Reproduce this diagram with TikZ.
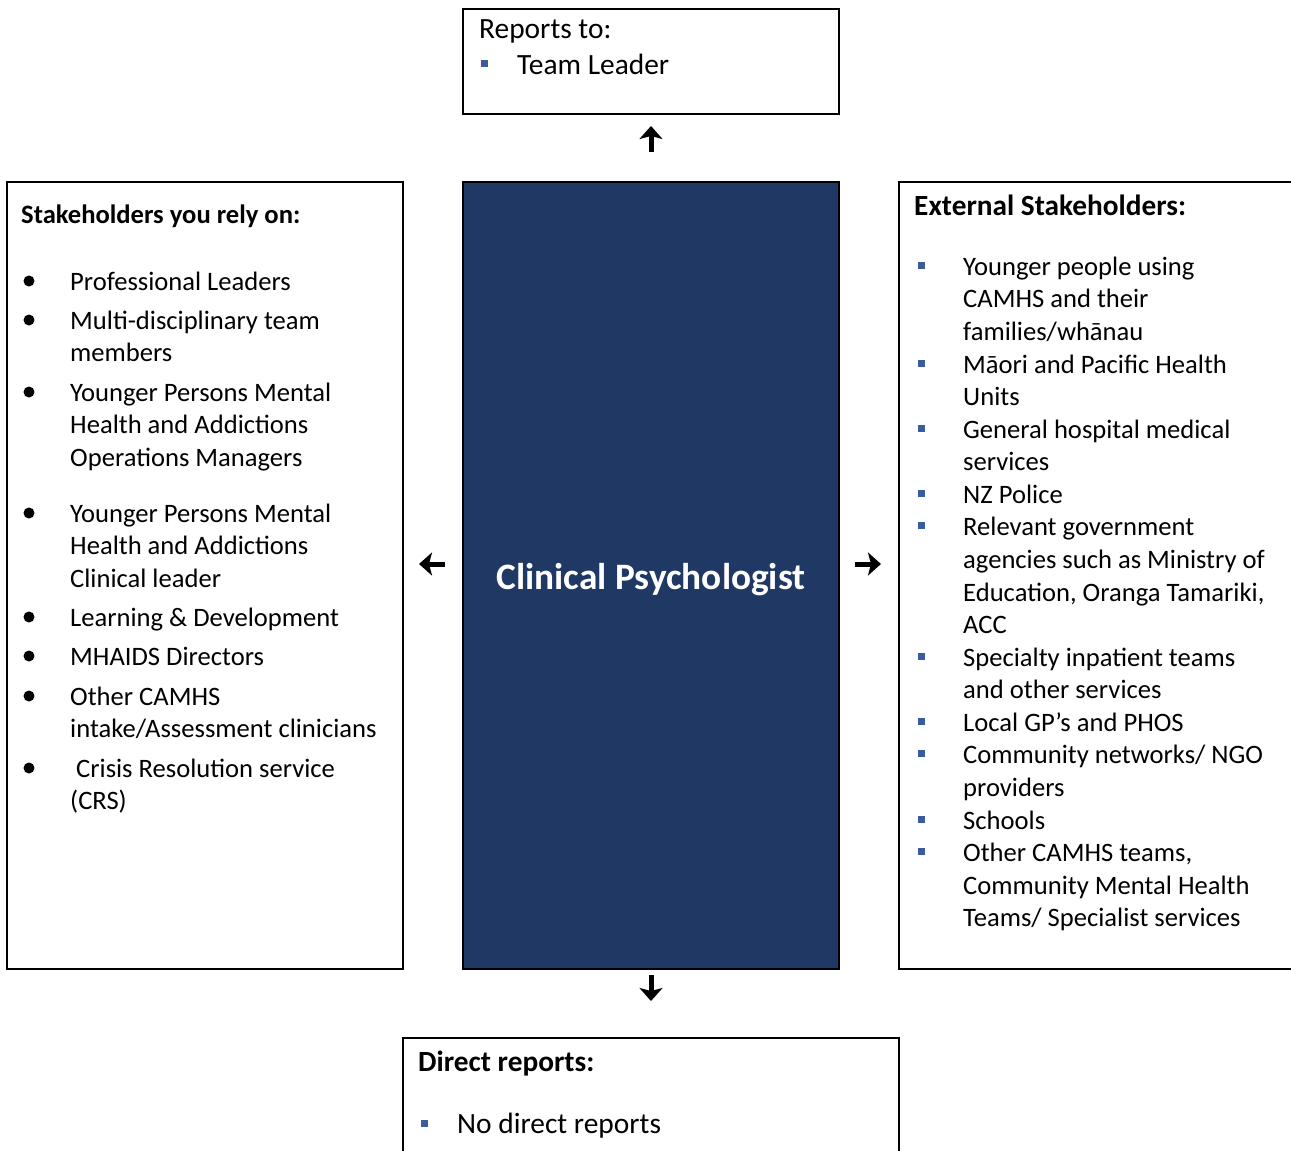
\documentclass[tikz,border=0pt]{standalone}
\usepackage{fontspec}
\setmainfont{Carlito}
\usetikzlibrary{arrows.meta}
\definecolor{navy}{HTML}{203864}
\definecolor{bulblue}{HTML}{3C5AA0}
\tikzset{
  box/.style={draw=black, line width=2.5pt, rectangle, inner sep=0pt, outer sep=0pt},
  txt/.style={anchor=base west, inner sep=0pt, font=\fontsize{26.6}{31}\selectfont},
  bigtxt/.style={anchor=base west, inner sep=0pt, font=\fontsize{29.4}{34}\selectfont},
  head/.style={anchor=base west, inner sep=0pt, font=\fontsize{29.3}{34}\selectfont\bfseries},
  dot/.style={circle, fill=black, inner sep=0pt, minimum size=11pt},
  sq/.style={rectangle, fill=bulblue, inner sep=0pt, minimum size=7pt},
  arr/.style={line width=5pt, -{Stealth[length=13pt,width=23pt,inset=3pt]}},
  title/.style={anchor=base, inner sep=0pt, text=white, font=\fontsize{37.3}{44}\selectfont\bfseries},
}
\begin{document}
\begin{tikzpicture}[x=1pt,y=-1pt]
\useasboundingbox (0,0) rectangle (1291,1151);
% boxes
\node[box, minimum width=376pt, minimum height=105pt] (top) at (651,61.5) {};
\node[box, minimum width=396pt, minimum height=787pt] (left) at (205,575.5) {};
\node[box, fill=navy, minimum width=376pt, minimum height=787pt] (center) at (651,575.5) {};
\node[box, minimum width=394pt, minimum height=787pt] (right) at (1096,575.5) {};
\node[box, minimum width=496pt, minimum height=115pt] (bottom) at (651,1095.5) {};
\node[title] (ttl) at (651,589) {Clinical Psychologist};
% arrows
\draw[arr, shorten <=30pt, shorten >=12pt] (center.north) -- (top.south);
\draw[arr, shorten <=18pt, shorten >=16pt] ([yshift=11.5pt]center.west) -- ([yshift=11.5pt]left.east);
\draw[arr, shorten <=16pt, shorten >=18pt] ([yshift=11.5pt]center.east) -- ([yshift=11.5pt]right.west);
\draw[arr, shorten <=6pt, shorten >=37pt] (center.south) -- (bottom.north);
% top box
\node[bigtxt] (rt) at (479,38) {Reports to:};
\node[sq] (tb1) at (484,63) {};
\node[bigtxt] (tl) at (517,74) {Team Leader};
% left box
\node[head, font=\fontsize{26.6}{31}\selectfont\bfseries] (lh) at (21,223) {Stakeholders you rely on:};
\foreach \y [count=\i] in {281,320,392,513,617,656,696,768}
  \node[dot] (lb\i) at (29,\y) {};
\foreach \y/\t [count=\i] in {290/{Professional Leaders}, 329/{Multi-disciplinary team}, 361/{members},
  401/{Younger Persons Mental}, 433/{Health and Addictions}, 466/{Operations Managers},
  522/{Younger Persons Mental}, 554/{Health and Addictions}, 587/{Clinical leader},
  626/{Learning \& Development}, 665/{MHAIDS Directors}, 705/{Other CAMHS},
  737/{intake/Assessment clinicians}, 809/{(CRS)}}
  \node[txt] (lt\i) at (70,\y) {\t};
\node[txt] (lcrs) at (76,777) {Crisis Resolution service};
% right box
\node[head] (rh) at (914,215) {External Stakeholders:};
\foreach \y [count=\i] in {265,363,428,493,525,656,721,753,819,851}
  \node[sq] (rb\i) at (921,\y) {};
\foreach \y/\t [count=\i] in {275/{Younger people using}, 307/{CAMHS and their}, 340/{families/whānau},
  373/{Māori and Pacific Health}, 405/{Units}, 438/{General hospital medical}, 470/{services},
  503/{NZ Police}, 535/{Relevant government}, 568/{agencies such as Ministry of},
  601/{Education, Oranga Tamariki,}, 633/{ACC}, 666/{Specialty inpatient teams},
  698/{and other services}, 731/{Local GP’s and PHOS}, 763/{Community networks/ NGO},
  796/{providers}, 829/{Schools}, 861/{Other CAMHS teams,}, 894/{Community Mental Health},
  926/{Teams/ Specialist services}}
  \node[txt] (rt\i) at (963,\y) {\t};
% bottom box
\node[head] (bh) at (418,1071) {Direct reports:};
\node[sq] (bb1) at (424,1123) {};
\node[bigtxt] (bt) at (457,1133) {No direct reports};
\end{tikzpicture}
\end{document}
